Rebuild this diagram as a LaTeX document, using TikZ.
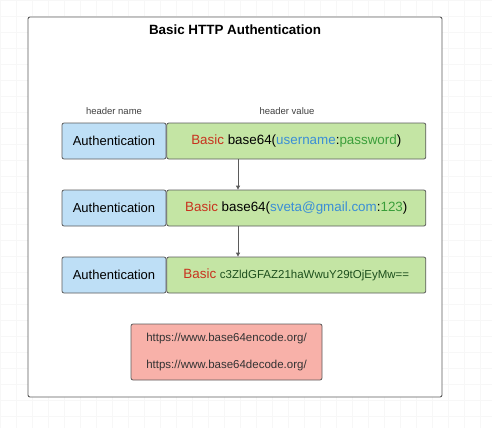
\documentclass[tikz,border=0pt]{standalone}
\usepackage{fontspec}
\setmainfont{Liberation Sans}
\usetikzlibrary{arrows.meta,positioning}
\definecolor{namefill}{HTML}{BEDFF6}
\definecolor{valfill}{HTML}{C4E5A4}
\definecolor{linkfill}{HTML}{F8B1A9}
\definecolor{edge}{HTML}{5B5B5B}
\definecolor{kwred}{HTML}{C8321E}
\definecolor{kwblue}{HTML}{3B8ED6}
\definecolor{kwgreen}{HTML}{3A9E3A}
\tikzset{
	namebox/.style={draw=edge,fill=namefill,rounded corners=2pt,line width=0.8pt,minimum width=104pt,minimum height=36pt,inner sep=0pt,font=\fontsize{13}{15}\selectfont},
	valbox/.style={draw=edge,fill=valfill,rounded corners=2pt,line width=0.8pt,minimum width=259pt,minimum height=36pt,inner sep=0pt,font=\fontsize{13.4}{15}\selectfont},
	hint/.style={font=\fontsize{9.5}{11}\selectfont,text=black!75}
}
\begin{document}
\begin{tikzpicture}[x=1pt,y=-1pt]
	\useasboundingbox (0,0) rectangle (492,428);
	\fill[white] (0,0) rectangle (492,428);
	\draw[black!3,step=16pt] (0,0) grid (492,428);
	\draw[edge,line width=0.9pt,rounded corners=2pt,fill=white] (28,17) rectangle (442,397);
	\node[font=\bfseries\fontsize{13.4}{15}\selectfont] (title) at (235,30) {Basic HTTP Authentication};
	\node[hint] (hname) at (114,111) {header name};
	\node[hint] (hval) at (287,111) {header value};
	% rows
	\node[namebox] (n1) at (114,141) {Authentication};
	\node[valbox,right=0pt of n1] (v1) {\textcolor{kwred}{Basic} base64(\textcolor{kwblue}{username}:\textcolor{kwgreen}{password})};
	\node[namebox] (n2) at (114,208) {Authentication};
	\node[valbox,right=0pt of n2] (v2) {\textcolor{kwred}{Basic} base64(\textcolor{kwblue}{sveta@gmail.com}:\textcolor{kwgreen}{123})};
	\node[namebox] (n3) at (114,275) {Authentication};
	\node[valbox,right=0pt of n3] (v3) {\textcolor{kwred}{Basic} {\fontsize{11.5}{13}\selectfont\textcolor{kwgreen!50!black}{c3ZldGFAZ21haWwuY29tOjEyMw==}}};
	\draw[-{Triangle[length=4pt,width=4pt]},edge,line width=0.8pt] (v1.south -| 238,0) -- (v2.north -| 238,0);
	\draw[-{Triangle[length=4pt,width=4pt]},edge,line width=0.8pt] (v2.south -| 238,0) -- (v3.north -| 238,0);
	% links
	\node[draw=edge,fill=linkfill,rounded corners=2pt,line width=0.8pt,minimum width=191pt,minimum height=56pt,align=center,font=\fontsize{11.5}{27}\selectfont,text=black!80] (links) at (226.5,352) {https://www.base64encode.org/\\https://www.base64decode.org/};
\end{tikzpicture}
\end{document}
